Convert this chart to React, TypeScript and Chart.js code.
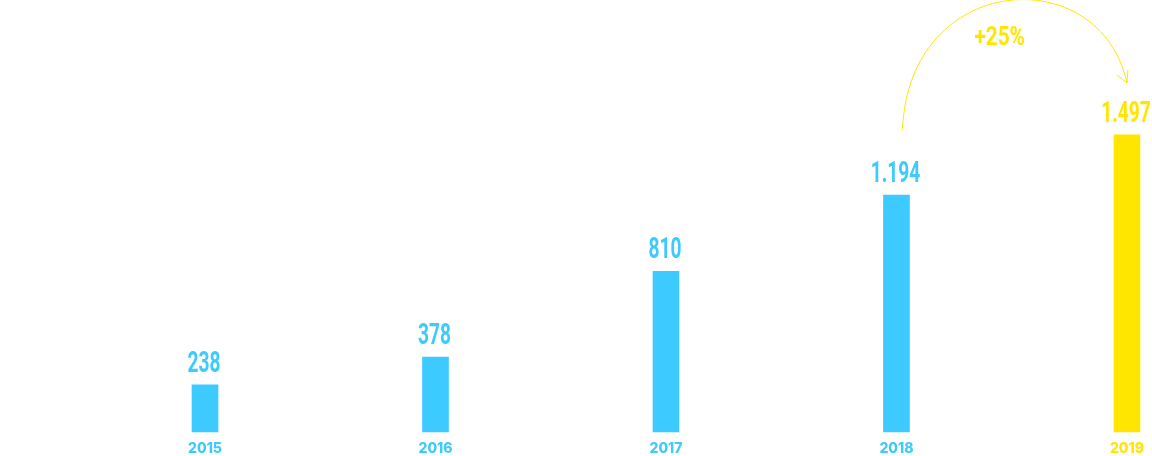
import { useEffect, useRef } from "react"
import { Chart, registerables } from "chart.js"

Chart.register(...registerables)

const years = ["2015", "2016", "2017", "2018", "2019"]
const visitors = [238, 378, 810, 1194, 1497]
const valueLabels = ["238", "378", "810", "1.194", "1.497"]
const growthLabel = "+25%"

const BLUE = "#3ccaff"
const YELLOW = "#ffe600"
const barColors = years.map((_, i) => (i === years.length - 1 ? YELLOW : BLUE))

// value labels above bars + the curved arrow between the last two bars
const labelsPlugin = {
  id: "valueLabels",
  afterDatasetsDraw(chart: Chart) {
    const { ctx } = chart
    const meta = chart.getDatasetMeta(0)
    ctx.save()
    ctx.textAlign = "center"
    ctx.textBaseline = "alphabetic"
    ctx.font = "700 29px Roboto"
    meta.data.forEach((bar: any, i: number) => {
      ctx.save()
      ctx.fillStyle = barColors[i]
      ctx.translate(bar.x - 1, bar.y - 13)
      ctx.scale(0.66, 1)
      ctx.fillText(valueLabels[i], 0, 0)
      ctx.restore()
    })

    const a = meta.data[meta.data.length - 2] as any
    const b = meta.data[meta.data.length - 1] as any
    const x0 = a.x + 6
    const y0 = a.y - 66
    const x1 = b.x
    const y1 = b.y - 52
    ctx.strokeStyle = YELLOW
    ctx.lineWidth = 1
    ctx.beginPath()
    ctx.moveTo(x0, y0)
    ctx.bezierCurveTo(x0 + 7, y0 - 158, x1 - 27, y1 - 123, x1, y1)
    ctx.stroke()
    ctx.beginPath()
    ctx.moveTo(x1 - 10, y1 - 8)
    ctx.lineTo(x1, y1)
    ctx.lineTo(x1 + 1, y1 - 13)
    ctx.stroke()

    ctx.save()
    ctx.fillStyle = YELLOW
    ctx.font = "700 25px Roboto"
    ctx.translate((x0 + x1) / 2 - 15, 45)
    ctx.scale(0.83, 1)
    ctx.fillText(growthLabel, 0, 0)
    ctx.restore()
    ctx.restore()
  },
}

export default function App() {
  const chartRef = useRef<HTMLCanvasElement>(null)
  const chartInstance = useRef<Chart | null>(null)

  useEffect(() => {
    document.body.style.margin = "0"
    if (!chartRef.current) return
    if (chartInstance.current) chartInstance.current.destroy()

    chartInstance.current = new Chart(chartRef.current, {
      type: "bar",
      data: {
        labels: years,
        datasets: [
          {
            data: visitors,
            backgroundColor: barColors,
            barThickness: 26,
            clip: false as any,
          },
        ],
      },
      options: {
        animation: false,
        responsive: false,
        layout: { padding: { left: 205, right: 25, top: 0, bottom: 1 } },
        plugins: { legend: { display: false }, tooltip: { enabled: false } },
        scales: {
          x: {
            offset: false,
            grid: { display: false, drawTicks: false, tickLength: 0 },
            border: { display: false },
            afterFit: (s: any) => {
              s.height = 23
            },
            ticks: {
              padding: 8,
              color: barColors,
              font: { family: "Inter", weight: 800 as any, size: 14 },
            },
          },
          y: {
            display: false,
            min: 0,
            max: 2177,
          },
        },
      },
      plugins: [labelsPlugin],
    })

    return () => {
      if (chartInstance.current) chartInstance.current.destroy()
    }
  }, [])

  return <canvas ref={chartRef} width={1152} height={456} style={{ display: "block" }} />
}
